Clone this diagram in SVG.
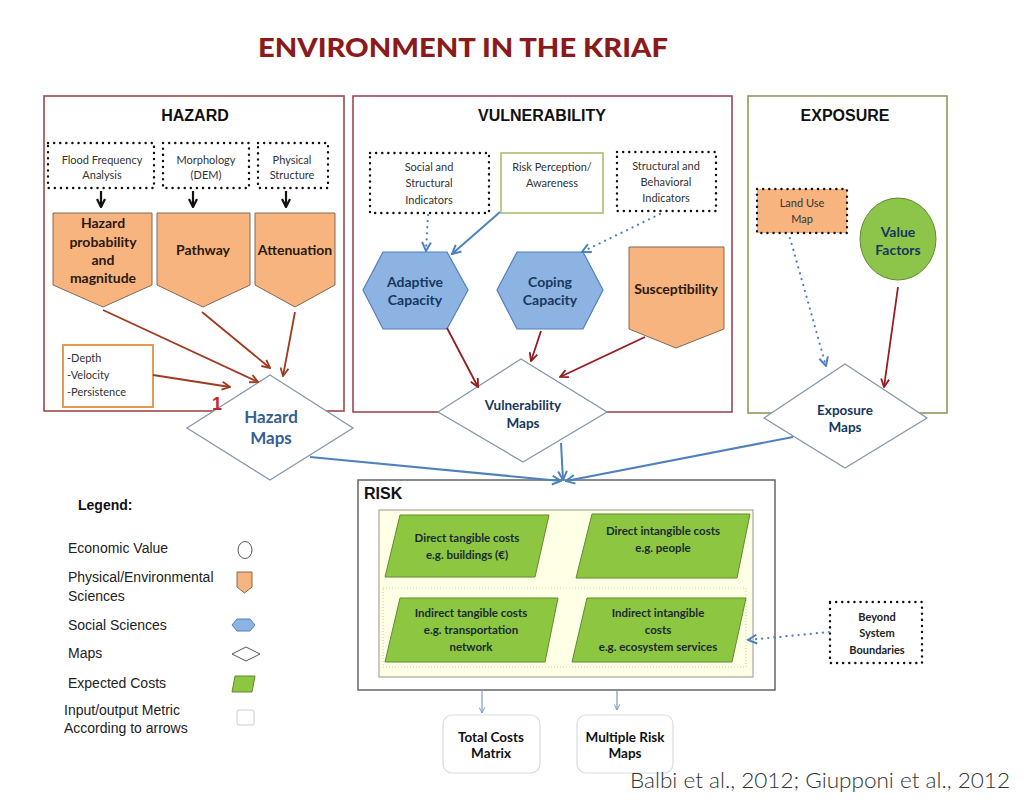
<svg xmlns="http://www.w3.org/2000/svg" width="1024" height="808" viewBox="0 0 1024 808">
<style>
.cal{font-family:Lato,"Open Sans","Liberation Sans",sans-serif}
.ar{font-family:"Liberation Sans",Arial,sans-serif}
.b{font-weight:bold}
.dot{fill:#fff;stroke:#111;stroke-width:2.4;stroke-dasharray:0.1 6;stroke-linecap:round}
.orange{fill:#F8B47E;stroke:#7F6A5A;stroke-width:1}
.hex{fill:#8DB3E2;stroke:#4F81BD;stroke-width:1.2}
.par{fill:#8DC640;stroke:#5E8C31;stroke-width:1}
.dia{fill:#fff;stroke:#8797AA;stroke-width:1.3}
.t11{font-size:11px;fill:#333}
.t14{font-size:14px;font-weight:bold}
.risk{font-size:11.5px;font-weight:bold;fill:#1B2B33}
.leg{font-size:14px;fill:#222}
.cb{stroke:#A03A20;stroke-width:1.8;fill:none}
.cr{stroke:#961C22;stroke-width:1.8;fill:none}
.cbl{stroke:#4F81BD;stroke-width:2;fill:none}
.cbd{stroke:#4F81BD;stroke-width:2.2;fill:none;stroke-dasharray:0.1 6;stroke-linecap:round}
</style>
<defs>
<marker id="mB" viewBox="0 0 10 10" refX="9" refY="5" markerWidth="10" markerHeight="10" orient="auto" markerUnits="userSpaceOnUse"><path d="M1,1 L9,5 L1,9" fill="none" stroke="#A03A20" stroke-width="1.8"/></marker>
<marker id="mR" viewBox="0 0 10 10" refX="9" refY="5" markerWidth="10" markerHeight="10" orient="auto" markerUnits="userSpaceOnUse"><path d="M1,1 L9,5 L1,9" fill="none" stroke="#961C22" stroke-width="1.8"/></marker>
<marker id="mBl" viewBox="0 0 10 10" refX="9" refY="5" markerWidth="11" markerHeight="11" orient="auto" markerUnits="userSpaceOnUse"><path d="M1,1 L9,5 L1,9" fill="none" stroke="#4F81BD" stroke-width="1.8"/></marker>
<marker id="mK" viewBox="0 0 10 10" refX="9" refY="5" markerWidth="10" markerHeight="10" orient="auto" markerUnits="userSpaceOnUse"><path d="M1,1 L9,5 L1,9" fill="none" stroke="#111" stroke-width="2.2"/></marker>
<marker id="mT" viewBox="0 0 10 10" refX="9" refY="5" markerWidth="7" markerHeight="7" orient="auto" markerUnits="userSpaceOnUse"><path d="M1,1 L9,5 L1,9" fill="none" stroke="#7A9CC6" stroke-width="1.4"/></marker>
</defs>
<rect width="1024" height="808" fill="#fff"/>

<text x="463" y="57" text-anchor="middle" class="cal" font-size="27" font-weight="900" fill="#8B1A1A" textLength="410" lengthAdjust="spacingAndGlyphs">ENVIRONMENT IN THE KRIAF</text>

<!-- Panels -->
<g id="hazard-panel">
<rect x="44" y="96" width="300" height="315" fill="#fff" stroke="#A04845" stroke-width="1.6"/>
<text x="195" y="121" text-anchor="middle" class="ar b" font-size="16" fill="#111">HAZARD</text>
</g>
<g id="vulnerability-panel">
<rect x="353" y="96" width="379" height="316" fill="#fff" stroke="#A04850" stroke-width="1.6"/>
<text x="542" y="121" text-anchor="middle" class="ar b" font-size="16" fill="#111">VULNERABILITY</text>
</g>
<g id="exposure-panel">
<rect x="748" y="96" width="199" height="317" fill="#fff" stroke="#8E9B5C" stroke-width="1.6"/>
<text x="845" y="121" text-anchor="middle" class="ar b" font-size="16" fill="#111">EXPOSURE</text>
</g>

<!-- Hazard nodes -->
<g id="flood-frequency">
<rect x="48" y="143" width="106" height="45" class="dot"/>
<text x="102" y="164" text-anchor="middle" class="cal t11">Flood Frequency</text>
<text x="102" y="179" text-anchor="middle" class="cal t11">Analysis</text>
</g>
<g id="morphology">
<rect x="163" y="143" width="86" height="45" class="dot"/>
<text x="206" y="164" text-anchor="middle" class="cal t11">Morphology</text>
<text x="206" y="179" text-anchor="middle" class="cal t11">(DEM)</text>
</g>
<g id="physical-structure">
<rect x="258" y="143" width="70" height="45" class="dot"/>
<text x="292" y="164" text-anchor="middle" class="cal t11">Physical</text>
<text x="292" y="179" text-anchor="middle" class="cal t11">Structure</text>
</g>
<g id="hazard-probability">
<polygon points="53,213 152,213 152,285 103,307 53,285" class="orange"/>
<text x="103" y="228" text-anchor="middle" class="cal t14" fill="#2A1A10">Hazard</text>
<text x="103" y="247" text-anchor="middle" class="cal t14" fill="#2A1A10">probability</text>
<text x="103" y="265" text-anchor="middle" class="cal t14" fill="#2A1A10">and</text>
<text x="103" y="283" text-anchor="middle" class="cal t14" fill="#2A1A10">magnitude</text>
</g>
<g id="pathway">
<polygon points="157,213 250,213 250,285 203,307 157,285" class="orange"/>
<text x="203" y="255" text-anchor="middle" class="cal t14" fill="#2A1A10">Pathway</text>
</g>
<g id="attenuation">
<polygon points="255,213 335,213 335,285 295,307 255,285" class="orange"/>
<text x="295" y="255" text-anchor="middle" class="cal t14" fill="#2A1A10">Attenuation</text>
</g>
<g id="depth-box">
<rect x="63" y="345" width="90" height="62" fill="#fff" stroke="#E59A50" stroke-width="2"/>
<text x="67" y="362" class="cal t11">-Depth</text>
<text x="67" y="379" class="cal t11">-Velocity</text>
<text x="67" y="396" class="cal t11">-Persistence</text>
</g>

<!-- Vulnerability nodes -->
<g id="social-structural">
<rect x="370" y="153" width="119" height="60" class="dot"/>
<text x="429" y="171" text-anchor="middle" class="cal t11">Social and</text>
<text x="429" y="187" text-anchor="middle" class="cal t11">Structural</text>
<text x="429" y="204" text-anchor="middle" class="cal t11">Indicators</text>
</g>
<g id="risk-perception">
<rect x="501" y="153" width="102" height="60" fill="#fff" stroke="#A8C070" stroke-width="1.6"/>
<text x="552" y="171" text-anchor="middle" class="cal t11">Risk Perception/</text>
<text x="552" y="187" text-anchor="middle" class="cal t11">Awareness</text>
</g>
<g id="structural-behavioral">
<rect x="617" y="152" width="99" height="59" class="dot"/>
<text x="666" y="170" text-anchor="middle" class="cal t11">Structural and</text>
<text x="666" y="186" text-anchor="middle" class="cal t11">Behavioral</text>
<text x="666" y="202" text-anchor="middle" class="cal t11">Indicators</text>
</g>
<g id="adaptive-capacity">
<polygon points="363,290 383,252 447,252 468,290 447,329 383,329" class="hex"/>
<text x="415" y="287" text-anchor="middle" class="cal t14" fill="#17375E">Adaptive</text>
<text x="415" y="305" text-anchor="middle" class="cal t14" fill="#17375E">Capacity</text>
</g>
<g id="coping-capacity">
<polygon points="497,290 517,252 583,252 603,290 583,329 517,329" class="hex"/>
<text x="550" y="287" text-anchor="middle" class="cal t14" fill="#17375E">Coping</text>
<text x="550" y="305" text-anchor="middle" class="cal t14" fill="#17375E">Capacity</text>
</g>
<g id="susceptibility">
<polygon points="629,247 724,247 724,329 676,348 629,329" class="orange"/>
<text x="676" y="294" text-anchor="middle" class="cal t14" fill="#2A1A10">Susceptibility</text>
</g>

<!-- Exposure nodes -->
<g id="land-use-map">
<rect x="757" y="189" width="90" height="44" fill="#F8B47E" stroke="#111" stroke-width="2.4" stroke-dasharray="0.1 6" stroke-linecap="round"/>
<text x="802" y="207" text-anchor="middle" class="cal t11">Land Use</text>
<text x="802" y="223" text-anchor="middle" class="cal t11">Map</text>
</g>
<g id="value-factors">
<ellipse cx="898" cy="239" rx="38" ry="41" fill="#8DC54A" stroke="#5E8C31" stroke-width="1"/>
<text x="898" y="237" text-anchor="middle" class="cal t14" fill="#17375E">Value</text>
<text x="898" y="255" text-anchor="middle" class="cal t14" fill="#17375E">Factors</text>
</g>

<!-- Maps -->
<g id="hazard-maps">
<polygon points="187,428 270,375 353,428 270,480" class="dia"/>
<text x="271" y="423" text-anchor="middle" class="cal" font-size="17" font-weight="bold" fill="#366092">Hazard</text>
<text x="271" y="444" text-anchor="middle" class="cal" font-size="17" font-weight="bold" fill="#366092">Maps</text>
</g>
<text id="marker-1" x="212" y="410" class="ar b" font-size="18" fill="#C0282D">1</text>
<g id="vulnerability-maps">
<polygon points="438,412 521,359 607,412 523,462" class="dia"/>
<text x="523" y="410" text-anchor="middle" class="cal" font-size="13.5" font-weight="bold" fill="#17375E">Vulnerability</text>
<text x="523" y="428" text-anchor="middle" class="cal" font-size="13.5" font-weight="bold" fill="#17375E">Maps</text>
</g>
<g id="exposure-maps">
<polygon points="764,418 845,364 927,418 845,468" class="dia"/>
<text x="845" y="415" text-anchor="middle" class="cal" font-size="13.5" font-weight="bold" fill="#17375E">Exposure</text>
<text x="845" y="432" text-anchor="middle" class="cal" font-size="13.5" font-weight="bold" fill="#17375E">Maps</text>
</g>

<!-- Risk -->
<g id="risk">
<rect x="358" y="480" width="417" height="210" fill="#fff" stroke="#666" stroke-width="1.5"/>
<text x="364" y="499" class="ar b" font-size="16" fill="#111">RISK</text>
<rect x="379" y="510" width="374" height="167" fill="#FFFFE6" stroke="#A8A8A0" stroke-width="1.2"/>
<rect x="383" y="588" width="363" height="79" fill="none" stroke="#C8C8B8" stroke-width="1" stroke-dasharray="1 2"/>
</g>
<g id="direct-tangible">
<polygon points="400,515 549,515 535,577 385,577" class="par"/>
<text x="467" y="542" text-anchor="middle" class="cal risk">Direct tangible costs</text>
<text x="467" y="559" text-anchor="middle" class="cal risk">e.g. buildings (€)</text>
</g>
<g id="direct-intangible">
<polygon points="592,514 750,514 737,578 576,578" class="par"/>
<text x="663" y="535" text-anchor="middle" class="cal risk">Direct intangible costs</text>
<text x="663" y="552" text-anchor="middle" class="cal risk">e.g. people</text>
</g>
<g id="indirect-tangible">
<polygon points="400,598 558,598 545,662 385,662" class="par"/>
<text x="471" y="617" text-anchor="middle" class="cal risk">Indirect tangible costs</text>
<text x="471" y="634" text-anchor="middle" class="cal risk">e.g. transportation</text>
<text x="471" y="651" text-anchor="middle" class="cal risk">network</text>
</g>
<g id="indirect-intangible">
<polygon points="587,598 746,598 732,662 572,662" class="par"/>
<text x="658" y="617" text-anchor="middle" class="cal risk">Indirect intangible</text>
<text x="658" y="634" text-anchor="middle" class="cal risk">costs</text>
<text x="658" y="651" text-anchor="middle" class="cal risk">e.g. ecosystem services</text>
</g>
<g id="beyond-system">
<rect x="830" y="602" width="92" height="61" class="dot"/>
<text x="877" y="621" text-anchor="middle" class="cal" font-size="11" font-weight="bold" fill="#222">Beyond</text>
<text x="877" y="637" text-anchor="middle" class="cal" font-size="11" font-weight="bold" fill="#222">System</text>
<text x="877" y="654" text-anchor="middle" class="cal" font-size="11" font-weight="bold" fill="#222">Boundaries</text>
</g>
<g id="total-costs">
<rect x="443" y="715" width="97" height="58" rx="9" fill="#fff" stroke="#D8DCE2" stroke-width="1.2"/>
<text x="491" y="742" text-anchor="middle" class="cal" font-size="13.5" font-weight="bold" fill="#111">Total Costs</text>
<text x="491" y="758" text-anchor="middle" class="cal" font-size="13.5" font-weight="bold" fill="#111">Matrix</text>
</g>
<g id="multiple-risk">
<rect x="577" y="715" width="96" height="58" rx="9" fill="#fff" stroke="#D8DCE2" stroke-width="1.2"/>
<text x="625" y="742" text-anchor="middle" class="cal" font-size="13.5" font-weight="bold" fill="#111">Multiple Risk</text>
<text x="625" y="758" text-anchor="middle" class="cal" font-size="13.5" font-weight="bold" fill="#111">Maps</text>
</g>
<text x="630" y="788" class="cal" font-size="22" font-weight="300" fill="#333" textLength="380" lengthAdjust="spacingAndGlyphs">Balbi et al., 2012; Giupponi et al., 2012</text>

<!-- Connectors -->
<g id="connectors">
<line x1="101" y1="191" x2="101" y2="207" stroke="#111" stroke-width="2.2" marker-end="url(#mK)"/>
<line x1="193" y1="191" x2="193" y2="207" stroke="#111" stroke-width="2.2" marker-end="url(#mK)"/>
<line x1="286" y1="191" x2="286" y2="207" stroke="#111" stroke-width="2.2" marker-end="url(#mK)"/>
<line x1="103" y1="310" x2="258" y2="382" class="cb" marker-end="url(#mB)"/>
<line x1="202" y1="312" x2="270" y2="368" class="cb" marker-end="url(#mB)"/>
<line x1="295" y1="312" x2="283" y2="376" class="cb" marker-end="url(#mB)"/>
<line x1="153" y1="375" x2="230" y2="387" class="cb" marker-end="url(#mB)"/>
<line x1="428" y1="215" x2="426" y2="251" class="cbd" marker-end="url(#mBl)"/>
<line x1="500" y1="212" x2="452" y2="254" class="cbl" marker-end="url(#mBl)"/>
<line x1="660" y1="214" x2="582" y2="252" class="cbd" marker-end="url(#mBl)"/>
<line x1="447" y1="328" x2="478" y2="387" class="cr" marker-end="url(#mR)"/>
<line x1="541" y1="331" x2="531" y2="361" class="cr" marker-end="url(#mR)"/>
<line x1="645" y1="337" x2="560" y2="377" class="cr" marker-end="url(#mR)"/>
<line x1="790" y1="238" x2="826" y2="366" class="cbd" marker-end="url(#mBl)"/>
<line x1="898" y1="287" x2="884" y2="387" class="cr" marker-end="url(#mR)"/>
<line x1="310" y1="457" x2="561" y2="481" class="cbl" marker-end="url(#mBl)"/>
<line x1="561" y1="443" x2="563" y2="480" class="cbl" marker-end="url(#mBl)"/>
<line x1="793" y1="437" x2="566" y2="481" class="cbl" marker-end="url(#mBl)"/>
<line x1="829" y1="632" x2="748" y2="640" class="cbd" marker-end="url(#mBl)"/>
<line x1="482" y1="690" x2="482" y2="713" stroke="#7A9CC6" stroke-width="1.2" marker-end="url(#mT)"/>
<line x1="617" y1="690" x2="617" y2="710" stroke="#7A9CC6" stroke-width="1.2" marker-end="url(#mT)"/>
</g>

<!-- Legend -->
<g id="legend">
<text x="78" y="510" class="ar b" font-size="14" fill="#111">Legend:</text>
<text x="68" y="553" class="ar leg">Economic Value</text>
<ellipse cx="245" cy="550" rx="7" ry="8.5" fill="#fff" stroke="#555" stroke-width="1"/>
<text x="68" y="582" class="ar leg">Physical/Environmental</text>
<text x="68" y="601" class="ar leg">Sciences</text>
<polygon points="237,572 252,572 252,587 244.5,593 237,587" fill="#F8B47E" stroke="#7F6A5A" stroke-width="1"/>
<text x="68" y="630" class="ar leg">Social Sciences</text>
<polygon points="232,625 237,619 250,619 255,625 250,631 237,631" fill="#8DB3E2" stroke="#4F81BD" stroke-width="1"/>
<text x="68" y="658" class="ar leg">Maps</text>
<polygon points="232,654 246,647 260,654 246,661" fill="#fff" stroke="#555" stroke-width="1"/>
<text x="68" y="688" class="ar leg">Expected Costs</text>
<polygon points="235,676 255,676 252,692 232,692" fill="#8DC640" stroke="#5E8C31" stroke-width="1"/>
<text x="64" y="715" class="ar leg">Input/output Metric</text>
<text x="64" y="733" class="ar leg">According to arrows</text>
<rect x="237" y="710" width="17" height="15" rx="2" fill="#fff" stroke="#CCC" stroke-width="1"/>
</g>
</svg>
